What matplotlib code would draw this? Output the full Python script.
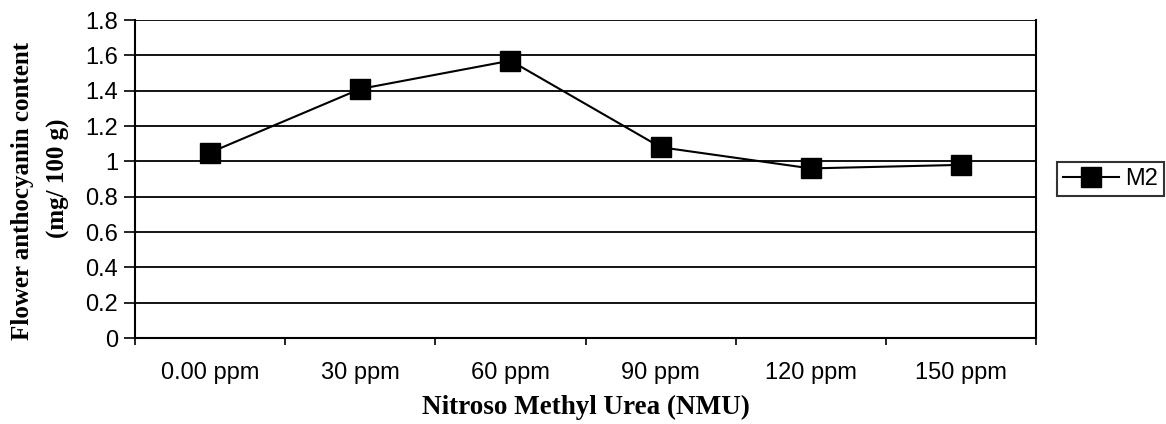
import numpy as np
import matplotlib
matplotlib.use('Agg')
import matplotlib.pyplot as plt

# datos
categorias = ['0.00 ppm', '30 ppm', '60 ppm', '90 ppm', '120 ppm', '150 ppm']
m2 = [1.05, 1.41, 1.57, 1.08, 0.96, 0.98]
yticks = [0, 0.2, 0.4, 0.6, 0.8, 1, 1.2, 1.4, 1.6, 1.8]
ytick_labels = ['0', '0.2', '0.4', '0.6', '0.8', '1', '1.2', '1.4', '1.6', '1.8']

plt.rcParams['font.family'] = ['Liberation Sans', 'DejaVu Sans']
serif = ['Liberation Serif', 'DejaVu Serif']

W, H = 1166, 424
fig = plt.figure(figsize=(W / 100, H / 100), dpi=100)
ax = fig.add_axes([0.1158, 0.2028, 0.7727, 0.75])

x = np.arange(len(categorias))
ax.plot(x, m2, color='black', linewidth=1.5, marker='s', markersize=14,
        markerfacecolor='black', markeredgecolor='black', label='M2', zorder=3)

ax.set_xlim(-0.5, len(categorias) - 0.5)
ax.set_ylim(0, 1.8)

# ticks del eje y y lineas de cuadricula
ax.set_yticks(yticks)
ax.set_yticklabels(ytick_labels, fontsize=17)
ax.yaxis.grid(True, color='black', linewidth=1.3)
ax.set_axisbelow(True)
ax.tick_params(axis='y', direction='out', length=8, width=1.2, pad=4, colors='black')

# ticks del eje x en los limites de categoria, etiquetas en el centro
ax.set_xticks(np.arange(-0.5, len(categorias), 1.0))
ax.set_xticklabels([])
ax.set_xticks(x, minor=True)
ax.set_xticklabels(categorias, minor=True, fontsize=17)
ax.tick_params(axis='x', which='major', direction='out', length=5, width=1.2)
ax.tick_params(axis='x', which='minor', length=0, pad=17)

for s in ['left', 'right', 'bottom']:
    ax.spines[s].set_color('black')
    ax.spines[s].set_linewidth(1.5)
ax.spines['top'].set_visible(False)

# titulo del eje x, muy cerca del borde inferior como en el original
fig.text(586 / W, 1 - 414 / H, 'Nitroso Methyl Urea (NMU)', ha='center', va='baseline',
         fontsize=19.5, fontweight='bold', family=serif)

# titulo del eje y en dos lineas, colocadas como en el original
fig.text(23 / W, 1 - 191 / H, 'Flower anthocyanin content', rotation=90,
         ha='center', va='center', fontsize=18, fontweight='bold', family=serif)
fig.text(58 / W, 1 - 178 / H, '(mg/ 100 g)', rotation=90,
         ha='center', va='center', fontsize=18, fontweight='bold', family=serif)

leg = ax.legend(loc='center left', bbox_to_anchor=(1.023, 0.5), fontsize=17,
                frameon=True, fancybox=False, handlelength=2.4, markerscale=1.0,
                borderpad=0.25, handletextpad=0.25, borderaxespad=0)
leg.get_frame().set_edgecolor('black')
leg.get_frame().set_linewidth(1.5)

fig.savefig('out.png', dpi=100)
